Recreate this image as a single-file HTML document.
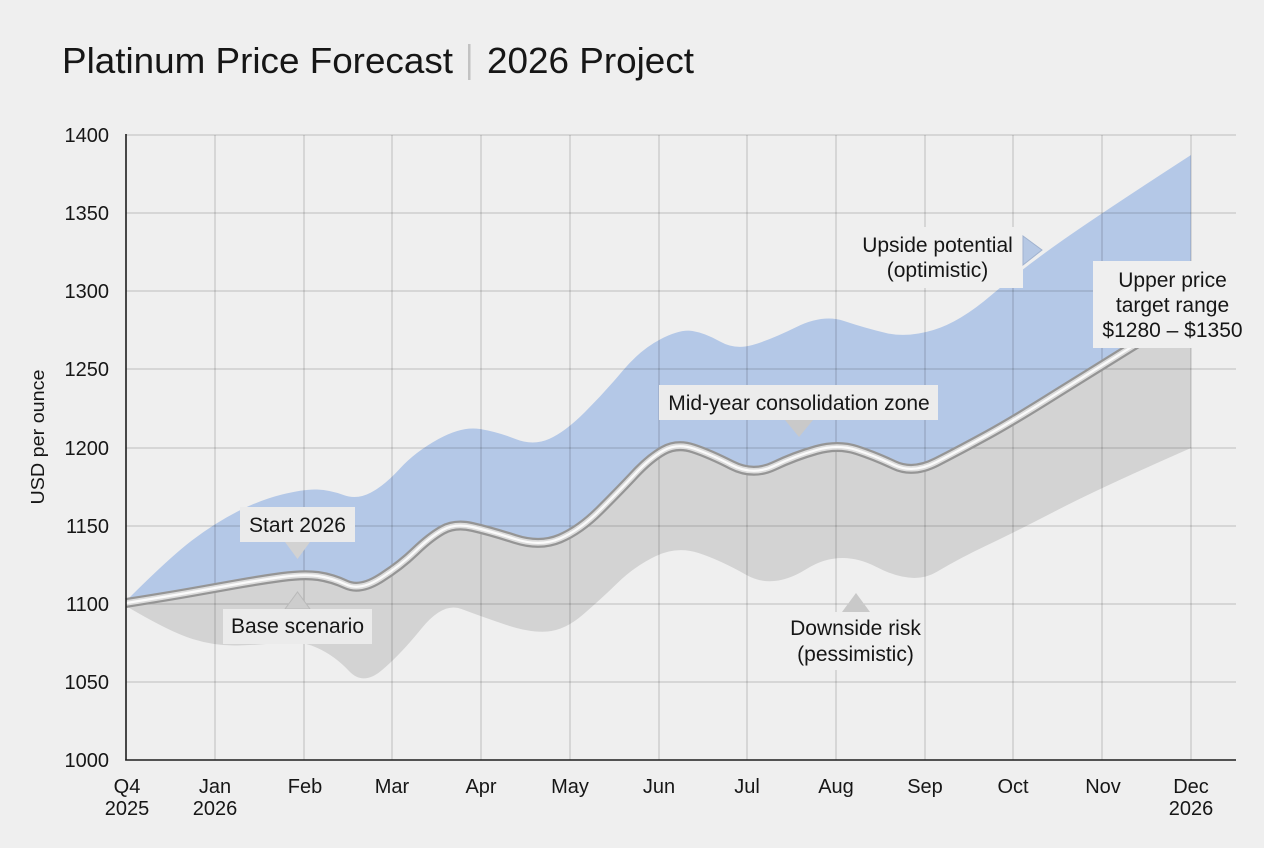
<!DOCTYPE html>
<html>
<head>
<meta charset="utf-8">
<style>
  html,body{margin:0;padding:0;background:#efefef;}
  body{width:1264px;height:848px;overflow:hidden;}
  svg{display:block;}
  text{font-family:"Liberation Sans", Arial, sans-serif; fill:#161616;}
</style>
</head>
<body>
<svg width="1264" height="848" viewBox="0 0 1264 848" xmlns="http://www.w3.org/2000/svg">
  <rect x="0" y="0" width="1264" height="848" fill="#efefef"/>

  <!-- Title -->
  <text x="62" y="73" font-size="36" textLength="391" lengthAdjust="spacingAndGlyphs">Platinum Price Forecast</text>
  <rect x="468" y="44" width="2.5" height="36" fill="#c2c2c2"/>
  <text x="487" y="73" font-size="36" textLength="207" lengthAdjust="spacingAndGlyphs">2026 Project</text>

  <!-- Blue band (filled to bottom) -->
  <path fill="#b4c8e7" d="M126,601 Q170,557 192.5,540 Q215,523 237.5,511.5 Q260,500 282,494.5 Q304,489 317,489.5 Q330,490 343.5,495 Q357,500 371,492.5 Q385,485 400,468.5 Q415,452 438.5,439 Q462,426 480,429 Q498,432 515.5,439 Q533,446 549,439 Q565,432 585,412 Q605,392 622.5,371 Q640,350 660,339.5 Q680,329 692.5,331 Q705,333 720,341.5 Q735,350 752.5,345 Q770,340 796.5,327 Q823,314 844,321 Q865,328 886,333 Q907,338 933.5,330 Q960,322 991.5,295 Q1023,268 1063,240 Q1103,212 1191,155 L1191,760 L126,760 Z"/>

  <!-- Gray band (from base line to bottom) -->
  <path fill="#d3d3d3" d="M126,603 Q170,596 192.5,592 Q215,588 237.5,584 Q260,580 282,577 Q304,574 318,576 Q332,578 346,584.5 Q360,591 380,578.5 Q400,566 415,551.5 Q430,537 442.5,530 Q455,523 472.5,527 Q490,531 515,539 Q540,547 560,538.5 Q580,530 600,510 Q620,490 635,474 Q650,458 663.5,450.5 Q677,443 693.5,448.5 Q710,454 731.5,465 Q753,476 774,466 Q795,456 816.5,450 Q838,444 856.5,450 Q875,456 894,465 Q913,474 936.5,462 Q960,450 986.5,435.5 Q1013,421 1057.5,393 Q1102,365 1191,310 L1191,760 L126,760 Z"/>

  <!-- Cover below gray band with background -->
  <path fill="#efefef" d="M126,606 Q170,632 192.5,639 Q215,646 237.5,645.5 Q260,645 280,642.5 Q300,640 317.5,648 Q335,656 349,671 Q363,686 381.5,670.5 Q400,655 421.5,628.5 Q443,602 461.5,609 Q480,616 505,624.5 Q530,633 547.5,631.5 Q565,630 582.5,615 Q600,600 617.5,583 Q635,566 656,556 Q677,546 698.5,553 Q720,560 746.5,575 Q773,590 806.5,569 Q840,548 876.5,567 Q913,586 936.5,572 Q960,558 986.5,545.5 Q1013,533 1057.5,510 Q1102,487 1191,448 L1191,761 L126,761 Z"/>

  <!-- Gridlines -->
  <g stroke="rgba(0,0,0,0.16)" stroke-width="1.3" fill="none">
    <line x1="126" y1="135" x2="1236" y2="135"/>
    <line x1="126" y1="213" x2="1236" y2="213"/>
    <line x1="126" y1="291" x2="1236" y2="291"/>
    <line x1="126" y1="369" x2="1236" y2="369"/>
    <line x1="126" y1="448" x2="1236" y2="448"/>
    <line x1="126" y1="526" x2="1236" y2="526"/>
    <line x1="126" y1="604" x2="1236" y2="604"/>
    <line x1="126" y1="682" x2="1236" y2="682"/>
    <line x1="215" y1="135" x2="215" y2="760"/>
    <line x1="304" y1="135" x2="304" y2="760"/>
    <line x1="392" y1="135" x2="392" y2="760"/>
    <line x1="481" y1="135" x2="481" y2="760"/>
    <line x1="570" y1="135" x2="570" y2="760"/>
    <line x1="659" y1="135" x2="659" y2="760"/>
    <line x1="747" y1="135" x2="747" y2="760"/>
    <line x1="836" y1="135" x2="836" y2="760"/>
    <line x1="925" y1="135" x2="925" y2="760"/>
    <line x1="1013" y1="135" x2="1013" y2="760"/>
    <line x1="1102" y1="135" x2="1102" y2="760"/>
    <line x1="1191" y1="135" x2="1191" y2="760"/>
  </g>

  <!-- Base scenario tube line -->
  <g fill="none" stroke-linecap="butt" stroke-linejoin="round">
    <path stroke="#959595" stroke-width="10" d="M126,603 Q170,596 192.5,592 Q215,588 237.5,584 Q260,580 282,577 Q304,574 318,576 Q332,578 346,584.5 Q360,591 380,578.5 Q400,566 415,551.5 Q430,537 442.5,530 Q455,523 472.5,527 Q490,531 515,539 Q540,547 560,538.5 Q580,530 600,510 Q620,490 635,474 Q650,458 663.5,450.5 Q677,443 693.5,448.5 Q710,454 731.5,465 Q753,476 774,466 Q795,456 816.5,450 Q838,444 856.5,450 Q875,456 894,465 Q913,474 936.5,462 Q960,450 986.5,435.5 Q1013,421 1057.5,393 Q1102,365 1191,310"/>
    <path stroke="#dcdcdc" stroke-width="5.5" d="M126,603 Q170,596 192.5,592 Q215,588 237.5,584 Q260,580 282,577 Q304,574 318,576 Q332,578 346,584.5 Q360,591 380,578.5 Q400,566 415,551.5 Q430,537 442.5,530 Q455,523 472.5,527 Q490,531 515,539 Q540,547 560,538.5 Q580,530 600,510 Q620,490 635,474 Q650,458 663.5,450.5 Q677,443 693.5,448.5 Q710,454 731.5,465 Q753,476 774,466 Q795,456 816.5,450 Q838,444 856.5,450 Q875,456 894,465 Q913,474 936.5,462 Q960,450 986.5,435.5 Q1013,421 1057.5,393 Q1102,365 1191,310"/>
    <path stroke="#fbfbfb" stroke-width="2.2" d="M126,603 Q170,596 192.5,592 Q215,588 237.5,584 Q260,580 282,577 Q304,574 318,576 Q332,578 346,584.5 Q360,591 380,578.5 Q400,566 415,551.5 Q430,537 442.5,530 Q455,523 472.5,527 Q490,531 515,539 Q540,547 560,538.5 Q580,530 600,510 Q620,490 635,474 Q650,458 663.5,450.5 Q677,443 693.5,448.5 Q710,454 731.5,465 Q753,476 774,466 Q795,456 816.5,450 Q838,444 856.5,450 Q875,456 894,465 Q913,474 936.5,462 Q960,450 986.5,435.5 Q1013,421 1057.5,393 Q1102,365 1191,310"/>
  </g>

  <!-- Axes -->
  <line x1="126" y1="134" x2="126" y2="760.5" stroke="#1e1e1e" stroke-width="1.6"/>
  <line x1="125.2" y1="760" x2="1236" y2="760" stroke="#1e1e1e" stroke-width="1.6"/>

  <!-- Y tick labels -->
  <g font-size="20" text-anchor="end">
    <text x="109" y="142">1400</text>
    <text x="109" y="220">1350</text>
    <text x="109" y="298">1300</text>
    <text x="109" y="376">1250</text>
    <text x="109" y="455">1200</text>
    <text x="109" y="533">1150</text>
    <text x="109" y="611">1100</text>
    <text x="109" y="689">1050</text>
    <text x="109" y="767">1000</text>
  </g>

  <!-- Y axis title -->
  <text transform="translate(44,437) rotate(-90)" font-size="18" text-anchor="middle" textLength="135" lengthAdjust="spacingAndGlyphs">USD per ounce</text>

  <!-- X tick labels -->
  <g font-size="20" text-anchor="middle">
    <text x="127" y="793">Q4</text><text x="127" y="815">2025</text>
    <text x="215" y="793">Jan</text><text x="215" y="815">2026</text>
    <text x="305" y="793">Feb</text>
    <text x="392" y="793">Mar</text>
    <text x="481" y="793">Apr</text>
    <text x="570" y="793">May</text>
    <text x="659" y="793">Jun</text>
    <text x="747" y="793">Jul</text>
    <text x="836" y="793">Aug</text>
    <text x="925" y="793">Sep</text>
    <text x="1013" y="793">Oct</text>
    <text x="1103" y="793">Nov</text>
    <text x="1191" y="793">Dec</text><text x="1191" y="815">2026</text>
  </g>

  <!-- Annotation: Start 2026 -->
  <rect x="240" y="507" width="115" height="35" fill="#ebebeb"/>
  <polygon points="285,542 310,542 297.5,559" fill="#d2d2d2"/>
  <text x="297.5" y="532" font-size="21" text-anchor="middle">Start 2026</text>

  <!-- Annotation: Base scenario -->
  <polygon points="285,609 310,609 297.5,592" fill="#cdcdcd" stroke="#b9b9b9" stroke-width="1"/>
  <rect x="223" y="609" width="149" height="35" fill="#ebebeb"/>
  <text x="297.5" y="633" font-size="21" text-anchor="middle">Base scenario</text>

  <!-- Annotation: Mid-year consolidation zone -->
  <rect x="659" y="385" width="279" height="35" fill="#ececec"/>
  <polygon points="785,420 813,420 799,437" fill="#c9c9c9"/>
  <text x="799" y="410" font-size="21" text-anchor="middle">Mid-year consolidation zone</text>

  <!-- Annotation: Downside risk -->
  <rect x="786" y="612" width="137" height="58" fill="#efefef"/>
  <polygon points="842,612 870,612 856,593" fill="#c9c9c9"/>
  <text x="855.5" y="635" font-size="21" text-anchor="middle">Downside risk</text>
  <text x="855.5" y="661" font-size="21" text-anchor="middle">(pessimistic)</text>

  <!-- Annotation: Upside potential -->
  <rect x="850" y="227" width="173" height="61" fill="#efefef"/>
  <polygon points="1023,236 1042,250 1023,265" fill="#b6c8e4" stroke="#a0b2cf" stroke-width="1"/>
  <text x="937.5" y="252" font-size="21" text-anchor="middle">Upside potential</text>
  <text x="937.5" y="277" font-size="21" text-anchor="middle">(optimistic)</text>

  <!-- Annotation: Upper price target range -->
  <rect x="1093" y="261" width="158" height="87" fill="#efefef"/>
  <text x="1172.5" y="287" font-size="21" text-anchor="middle">Upper price</text>
  <text x="1172.5" y="312" font-size="21" text-anchor="middle">target range</text>
  <text x="1172.5" y="337" font-size="21" text-anchor="middle">$1280 – $1350</text>
</svg>
</body>
</html>
